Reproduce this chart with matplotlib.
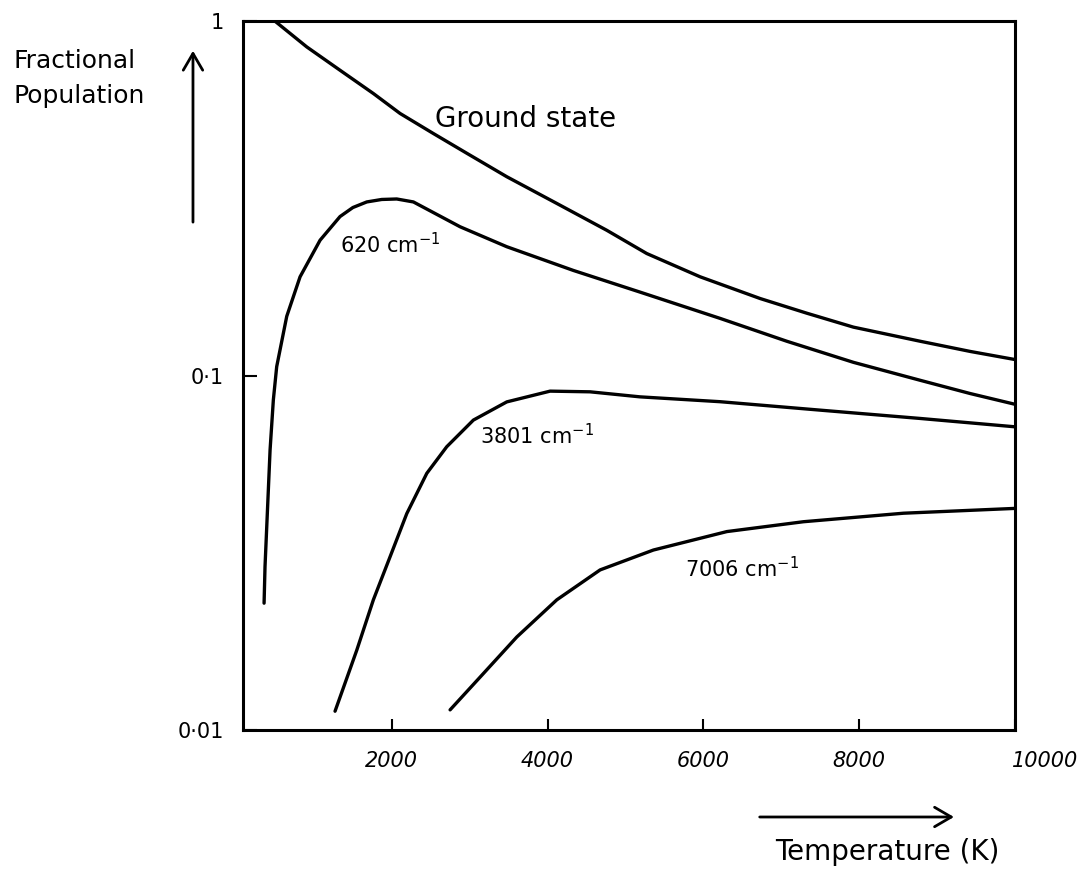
import matplotlib
matplotlib.use('Agg')
import matplotlib.pyplot as plt
import matplotlib.transforms as mtransforms

plt.rcParams['font.family'] = ['DejaVu Sans']
plt.rcParams['mathtext.default'] = 'regular'

# temperatures (K) and fractional populations
ground_T = [500, 908, 1335, 1763, 2106, 2533, 2962, 3476, 4118, 4760, 5273,
            5958, 6728, 7327, 7926, 8783, 9425, 10000]
ground_p = [1.0, 0.846, 0.727, 0.625, 0.549, 0.482, 0.424, 0.364, 0.306,
            0.257, 0.221, 0.190, 0.165, 0.150, 0.137, 0.125, 0.117, 0.111]

s620_T = [360, 372, 437, 479, 522, 651, 822, 1079, 1335, 1500, 1678, 1870,
          2063, 2277, 2876, 3476, 4331, 5187, 6215, 7071, 7926, 8783, 9425,
          10000]
s620_p = [0.0228, 0.0289, 0.0617, 0.0854, 0.106, 0.147, 0.190, 0.241, 0.281,
          0.298, 0.309, 0.314, 0.315, 0.309, 0.263, 0.231, 0.198, 0.172,
          0.145, 0.125, 0.109, 0.097, 0.089, 0.083]

s3801_T = [1271, 1550, 1763, 1977, 2192, 2449, 2705, 3047, 3476, 4032, 4545,
           5187, 6215, 7499, 8783, 10000]
s3801_p = [0.0113, 0.0168, 0.0233, 0.0308, 0.0408, 0.0530, 0.0630, 0.0749,
           0.0843, 0.0904, 0.0900, 0.0871, 0.0844, 0.0799, 0.0757, 0.0717]

s7006_T = [2748, 3133, 3604, 4118, 4674, 5358, 6301, 7284, 8568, 10000]
s7006_p = [0.0114, 0.0141, 0.0183, 0.0233, 0.0283, 0.0322, 0.0363, 0.0387,
           0.0409, 0.0422]

x_ticks = [2000, 4000, 6000, 8000, 10000]
x_labels = ['2000', '4000', '6000', '8000', '10000']
y_ticks = [0.01, 0.1, 1]
y_labels = ['0·01', '0·1', '1']

fig = plt.figure(figsize=(10.86, 8.82), dpi=100)
ax = fig.add_axes([0.2238, 0.1723, 0.9346 - 0.2238, 0.976 - 0.1723])

lw = 2.4
for T, p in [(ground_T, ground_p), (s620_T, s620_p),
             (s3801_T, s3801_p), (s7006_T, s7006_p)]:
    ax.plot(T, p, color='black', lw=lw, solid_joinstyle='round',
            solid_capstyle='round')

ax.set_yscale('log')
ax.set_xlim(90, 10000)
ax.set_ylim(0.01, 1)
ax.set_xticks(x_ticks)
ax.set_xticklabels(x_labels, fontsize=15, fontstyle='italic')
ax.set_yticks(y_ticks)
ax.set_yticklabels(y_labels, fontsize=15)
ax.minorticks_off()
ax.tick_params(axis='x', direction='in', length=8, width=1.5, pad=15)
ax.tick_params(axis='y', direction='in', length=10, width=1.5, pad=14)
for sp in ax.spines.values():
    sp.set_linewidth(2.2)

# the 10000 label sits to the right of the corner
last = ax.get_xticklabels()[-1]
last.set_transform(last.get_transform() +
                   mtransforms.ScaledTranslation(0.3, 0, fig.dpi_scale_trans))

ax.text(2555, 0.502, 'Ground state', fontsize=20, ha='left', va='baseline')
ax.text(1335, 0.222, r'620 cm$^{-1}$', fontsize=15, ha='left', va='baseline')
ax.text(3133, 0.0641, r'3801 cm$^{-1}$', fontsize=15, ha='left', va='baseline')
ax.text(5765, 0.0270, r'7006 cm$^{-1}$', fontsize=15, ha='left', va='baseline')

fig.text(0.012, 0.945, 'Fractional\nPopulation', fontsize=18, ha='left',
         va='top', linespacing=1.6)
fig.text(0.817, 0.034, 'Temperature (K)', fontsize=20, ha='center',
         va='center')

fig.patches.append(matplotlib.patches.FancyArrowPatch(
    (0.1777, 0.745), (0.1777, 0.9456), transform=fig.transFigure,
    arrowstyle='->,head_length=12,head_width=7', lw=2, color='black'))
fig.patches.append(matplotlib.patches.FancyArrowPatch(
    (0.697, 0.0737), (0.881, 0.0737), transform=fig.transFigure,
    arrowstyle='->,head_length=12,head_width=7', lw=2, color='black'))

fig.savefig('out.png', dpi=100)
